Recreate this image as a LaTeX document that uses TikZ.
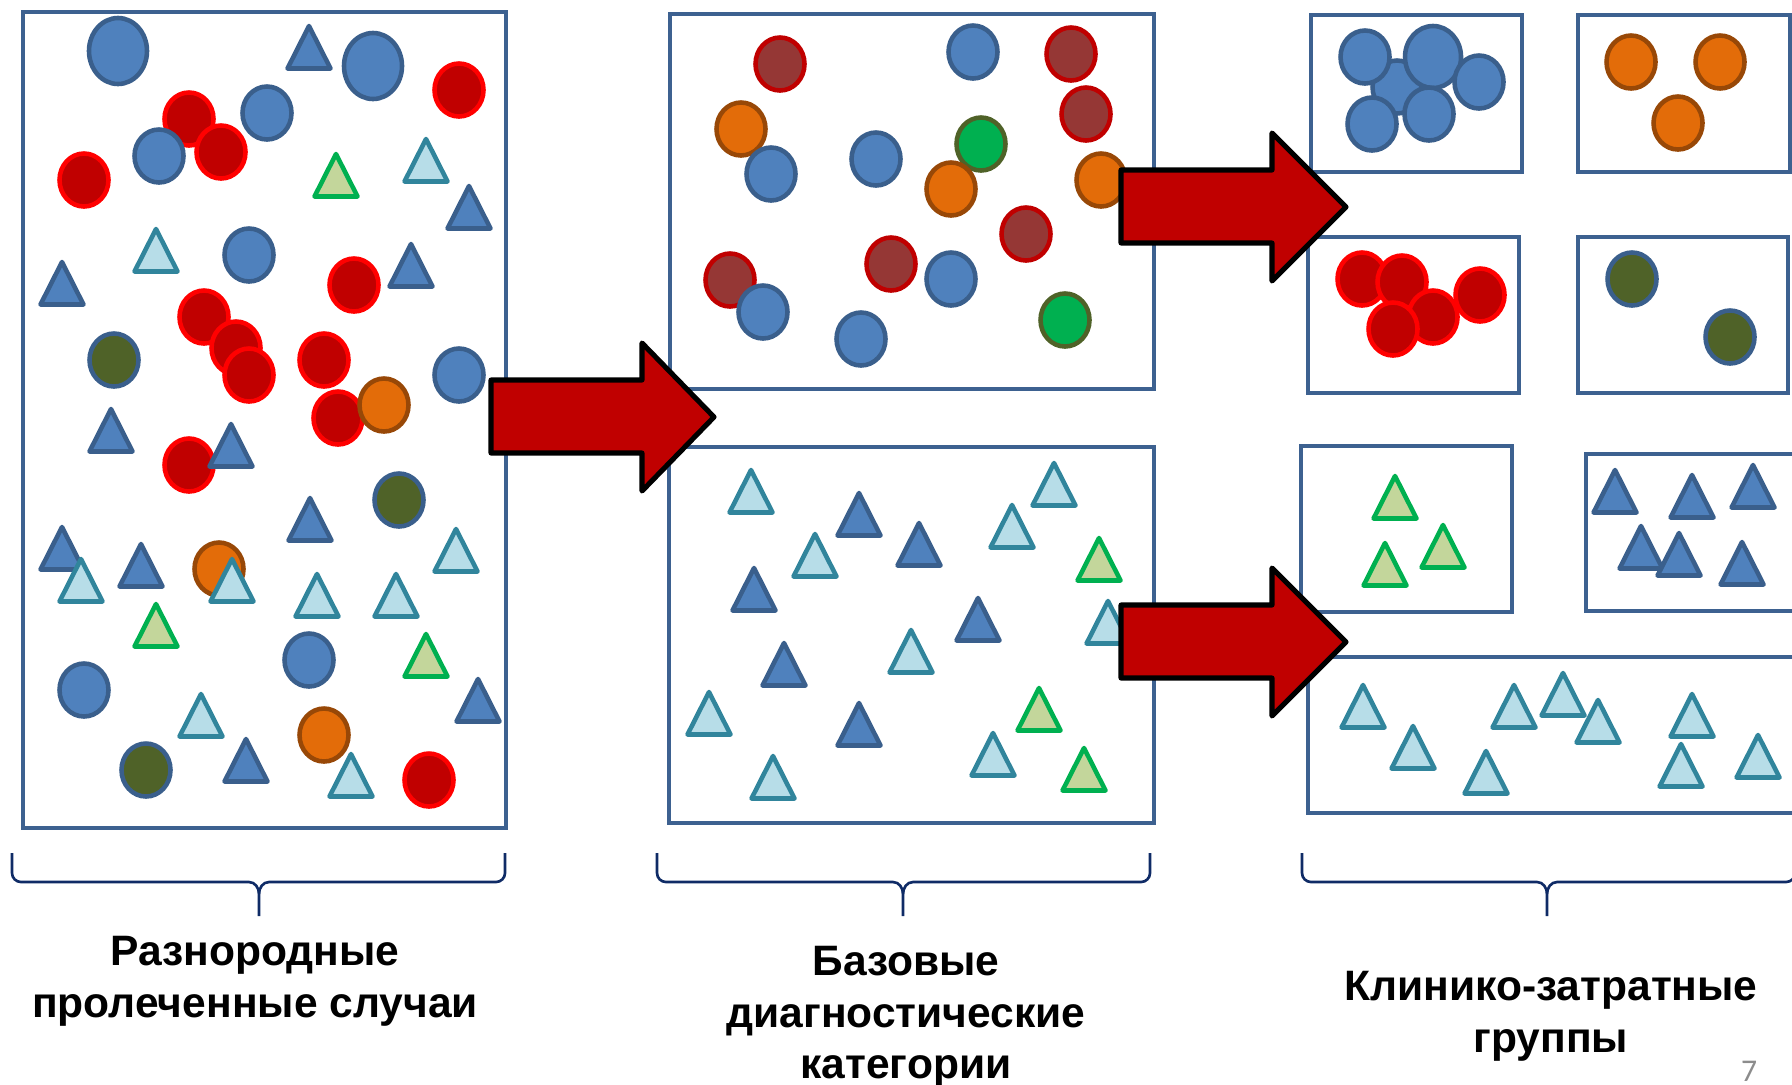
\documentclass[tikz,border=0pt]{standalone}
\usepackage{fontspec}
\setmainfont{Liberation Sans}
\newfontfamily\pagefont{Carlito}

\definecolor{boxc}{HTML}{3D6190}
\definecolor{blueF}{HTML}{4F81BD}
\definecolor{blueS}{HTML}{3A5F8C}
\definecolor{redF}{HTML}{C00000}
\definecolor{redS}{HTML}{FF0000}
\definecolor{brownF}{HTML}{953735}
\definecolor{orangeF}{HTML}{E36C09}
\definecolor{orangeS}{HTML}{984807}
\definecolor{oliveF}{HTML}{4F6228}
\definecolor{greenF}{HTML}{00B050}
\definecolor{lbF}{HTML}{B7DDE8}
\definecolor{lbS}{HTML}{31859C}
\definecolor{gtF}{HTML}{C3D69B}
\definecolor{braceC}{HTML}{0F2B66}
\definecolor{pageC}{HTML}{8C8C8C}

% one case = a small ellipse or a small triangle
\newcommand\ball[3]{\path[#1] (#2,#3) ellipse [x radius=24.5, y radius=26.5];}
\newcommand\bigball[3]{\path[#1] (#2,#3) ellipse [x radius=29, y radius=33];}
\newcommand\trg[3]{\path[#1] (#2,#3+2) -- ++(21.5,42.5) -- ++(-43,0) -- cycle;}
% curly bracket under a column: left x, right x, middle x
\newcommand\grpbrace[3]{%
  \draw[brace] (#1,853) -- (#1,873) to[out=-90,in=180] (#1+9,882) -- (#3-10,882)
    to[out=0,in=90] (#3,894) -- (#3,916);
  \draw[brace] (#2,853) -- (#2,873) to[out=-90,in=0] (#2-9,882) -- (#3+10,882)
    to[out=180,in=90] (#3,894);}

\begin{document}
\begin{tikzpicture}[x=0.01cm,y=-0.01cm,
  frame/.style={draw=boxc, line width=1.15pt},
  shp/.style={line width=1.3pt},
  blueb/.style={shp, fill=blueF, draw=blueS},
  redb/.style={shp, fill=redF, draw=redS},
  brownb/.style={shp, fill=brownF, draw=redF},
  orangeb/.style={shp, fill=orangeF, draw=orangeS},
  oliveb/.style={shp, fill=oliveF, draw=blueS},
  greenb/.style={shp, fill=greenF, draw=oliveF},
  bluet/.style={shp, fill=blueF, draw=blueS, line join=round},
  lightt/.style={shp, fill=lbF, draw=lbS, line join=round},
  greent/.style={shp, fill=gtF, draw=greenF, line join=round},
  blockarrow/.style={fill=redF, draw=black, line width=1.45pt, line join=round},
  brace/.style={draw=braceC, line width=0.75pt},
  lbl/.style={font=\bfseries\fontsize{12.1}{14.65}\selectfont, align=center, inner sep=0pt},
  pnum/.style={font=\pagefont\fontsize{9}{10}\selectfont, text=pageC, inner sep=0pt}]

\useasboundingbox (0,0) rectangle (1792,1084);
\clip (0,0) rectangle (1792,1084);

% frames
\draw[frame] (23,12) rectangle (506,828);
\draw[frame] (670,14) rectangle (1154,389);
\draw[frame] (669,447) rectangle (1154,823);
\draw[frame] (1311,15) rectangle (1522,172);
\draw[frame] (1578,15) rectangle (1790,172);
\draw[frame] (1308,237) rectangle (1519,393);
\draw[frame] (1578,237) rectangle (1788,393);
\draw[frame] (1301,446) rectangle (1512,612);
\draw[frame] (1586,454) rectangle (1820,611);
\draw[frame] (1308,657) rectangle (1820,813);

% mixed cases
\bigball{blueb}{118}{51}
\trg{bluet}{309}{24}
\bigball{blueb}{373}{66}
\ball{redb}{459}{90}
\ball{redb}{189}{119}
\ball{blueb}{267}{113}
\ball{blueb}{159}{156}
\ball{redb}{221}{152}
\ball{redb}{84}{180}
\trg{greent}{336}{152}
\trg{lightt}{426}{137}
\trg{bluet}{469}{184}
\trg{lightt}{156}{227}
\ball{blueb}{249}{255}
\trg{bluet}{62}{260}
\ball{redb}{354}{285}
\trg{bluet}{411}{242}
\ball{redb}{204}{317}
\ball{redb}{236}{348}
\ball{redb}{249}{375}
\ball{redb}{324}{360}
\ball{oliveb}{114}{360}
\ball{blueb}{459}{375}
\ball{redb}{338}{418}
\ball{orangeb}{384}{405}
\trg{bluet}{111}{407}
\ball{redb}{189}{465}
\trg{bluet}{231}{422}
\ball{oliveb}{399}{500}
\trg{bluet}{310}{496}
\trg{bluet}{62}{525}
\trg{lightt}{81}{557}
\trg{bluet}{141}{542}
\ball{orangeb}{219}{569}
\trg{lightt}{232}{557}
\trg{lightt}{456}{527}
\trg{lightt}{317}{572}
\trg{lightt}{396}{572}
\trg{greent}{156}{602}
\ball{blueb}{309}{660}
\trg{greent}{426}{632}
\ball{blueb}{84}{690}
\trg{bluet}{478}{677}
\trg{lightt}{201}{692}
\ball{orangeb}{324}{735}
\ball{oliveb}{146}{770}
\trg{bluet}{246}{737}
\trg{lightt}{351}{752}
\ball{redb}{429}{780}

% base categories: circles
\ball{brownb}{780}{64}
\ball{blueb}{973}{52}
\ball{brownb}{1071}{54}
\ball{brownb}{1086}{114}
\ball{orangeb}{741}{129}
\ball{blueb}{771}{174}
\ball{blueb}{876}{159}
\ball{greenb}{981}{144}
\ball{orangeb}{951}{189}
\ball{orangeb}{1101}{180}
\ball{brownb}{1026}{234}
\ball{brownb}{730}{280}
\ball{blueb}{763}{312}
\ball{brownb}{891}{264}
\ball{blueb}{951}{279}
\ball{blueb}{861}{339}
\ball{greenb}{1065}{320}

% base categories: triangles
\trg{lightt}{751}{468}
\trg{bluet}{859}{491}
\trg{lightt}{815}{532}
\trg{bluet}{919}{521}
\trg{lightt}{1054}{461}
\trg{lightt}{1012}{503}
\trg{greent}{1099}{536}
\trg{bluet}{754}{566}
\trg{bluet}{978}{596}
\trg{lightt}{1108}{599}
\trg{lightt}{911}{628}
\trg{bluet}{784}{641}
\trg{lightt}{709}{690}
\trg{bluet}{859}{701}
\trg{greent}{1039}{686}
\trg{lightt}{993}{731}
\trg{greent}{1084}{746}
\trg{lightt}{773}{754}

% clinical cost groups
\ball{blueb}{1397}{87}
\ball{blueb}{1365}{57}
\path[blueb] (1433,57) ellipse [x radius=28, y radius=31];
\ball{blueb}{1479}{82}
\ball{blueb}{1372}{124}
\ball{blueb}{1429}{114}

\ball{orangeb}{1631}{62}
\ball{orangeb}{1720}{62}
\ball{orangeb}{1678}{123}

\ball{redb}{1362}{279}
\ball{redb}{1402}{282}
\ball{redb}{1433}{317}
\ball{redb}{1480}{295}
\ball{redb}{1393}{329}

\ball{oliveb}{1632}{279}
\ball{oliveb}{1730}{337}

\trg{greent}{1395}{474}
\trg{greent}{1443}{523}
\trg{greent}{1385}{541}

\trg{bluet}{1615}{468}
\trg{bluet}{1692}{473}
\trg{bluet}{1753}{463}
\trg{bluet}{1641}{524}
\trg{bluet}{1679}{531}
\trg{bluet}{1742}{540}

\trg{lightt}{1363}{683}
\trg{lightt}{1413}{724}
\trg{lightt}{1486}{749}
\trg{lightt}{1514}{683}
\trg{lightt}{1563}{671}
\trg{lightt}{1598}{698}
\trg{lightt}{1692}{692}
\trg{lightt}{1681}{742}
\trg{lightt}{1758}{733}

% block arrows
\draw[blockarrow] (491,380) -- (642,380) -- (642,343) -- (714,417) -- (642,491) -- (642,453) -- (491,453) -- cycle;
\draw[blockarrow] (1121,170) -- (1272,170) -- (1272,133) -- (1346,207) -- (1272,281) -- (1272,243) -- (1121,243) -- cycle;
\draw[blockarrow] (1121,605) -- (1272,605) -- (1272,568) -- (1346,642) -- (1272,716) -- (1272,678) -- (1121,678) -- cycle;

% brackets
\grpbrace{12}{505}{259}
\grpbrace{657}{1150}{903}
\grpbrace{1302}{1795}{1547}

% captions
\node[lbl] (t1) at (255,981) {Разнородные\\пролеченные случаи};
\node[lbl] (t2) at (906,1017) {Базовые\\диагностические\\категории};
\node[lbl] (t3) at (1551,1016) {Клинико-затратные\\группы};
\node[pnum] (pg) at (1749,1071) {7};
\end{tikzpicture}
\end{document}
